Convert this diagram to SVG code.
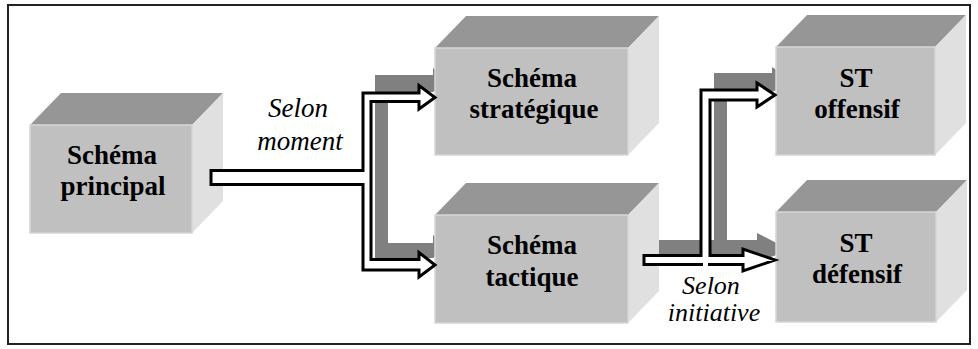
<svg xmlns="http://www.w3.org/2000/svg" width="978" height="349" viewBox="0 0 978 349">
<style>
.frame{fill:#fff;stroke:#222;stroke-width:2}
.top{fill:#969696}
.side{fill:#e0e0e0}
.front{fill:#c0c0c0;stroke:#d6d6d6;stroke-width:1.5}
.lbl{font-weight:bold;font-size:27px;fill:#000;text-anchor:middle}
.it{font-style:italic;font-size:26px;fill:#000;text-anchor:middle}
.it27{font-size:27px}
.shadow{fill:#808080}
.arrow{fill:#fff;stroke:#000;stroke-width:3;stroke-linejoin:miter}
</style>
<rect class="frame" x="8" y="5" width="962" height="339"/>
<g id="shadows">
<path class="shadow" d="M375,75 H433 V68 L449,80 L433,92 H388 V243 H433 V235 L449,248 L433,258 H375 Z"/>
<path class="shadow" d="M658,240 H714 V73 H772 V67 L795,82 L772,92 H727 V240 H757 V233 L790,250 L757,262 V256 H658 Z"/>
</g>
<g id="n-principal" font-family="'Liberation Serif', 'Times New Roman', 'DejaVu Serif', serif">
<polygon class="top" points="30,125 61,93 223,93 192,125"/>
<polygon class="side" points="192,125 223,93 223,201 192,233"/>
<rect class="front" x="30" y="125" width="162" height="108"/>
<text class="lbl" x="112" y="164">Schéma</text>
<text class="lbl" x="113" y="195">principal</text>
</g>
<g id="n-strategique" font-family="'Liberation Serif', 'Times New Roman', 'DejaVu Serif', serif">
<polygon class="top" points="435,48 466,16 659,16 628,48"/>
<polygon class="side" points="628,48 659,16 659,123 628,155"/>
<rect class="front" x="435" y="48" width="193" height="107"/>
<text class="lbl" x="532" y="87">Schéma</text>
<text class="lbl" x="534" y="118">stratégique</text>
</g>
<g id="n-tactique" font-family="'Liberation Serif', 'Times New Roman', 'DejaVu Serif', serif">
<polygon class="top" points="435,215 466,183 659,183 628,215"/>
<polygon class="side" points="628,215 659,183 659,291 628,323"/>
<rect class="front" x="435" y="215" width="193" height="108"/>
<text class="lbl" x="532" y="254">Schéma</text>
<text class="lbl" x="532" y="286">tactique</text>
</g>
<g id="n-offensif" font-family="'Liberation Serif', 'Times New Roman', 'DejaVu Serif', serif">
<polygon class="top" points="776,47 807,15 966,15 935,47"/>
<polygon class="side" points="935,47 966,15 966,123 935,155"/>
<rect class="front" x="776" y="47" width="159" height="108"/>
<text class="lbl" x="856" y="87">ST</text>
<text class="lbl" x="857" y="118">offensif</text>
</g>
<g id="n-defensif" font-family="'Liberation Serif', 'Times New Roman', 'DejaVu Serif', serif">
<polygon class="top" points="776,212 807,180 967,180 936,212"/>
<polygon class="side" points="936,212 967,180 967,290 936,322"/>
<rect class="front" x="776" y="212" width="160" height="110"/>
<text class="lbl" x="856" y="252">ST</text>
<text class="lbl" x="857" y="283">défensif</text>
</g>
<g id="connectors" font-family="'Liberation Serif', 'Times New Roman', 'DejaVu Serif', serif">
<path class="arrow" d="M211,170.5 H363 V93 H419 V85.5 L435,97.5 L419,109 V101.5 H371 V259.5 H419 V252.5 L435,265 L419,277 V270 H363 V184.5 H211 Z"/>
<path class="arrow" d="M644,255.5 H701 V90 H757 V83 L775,95 L757,107 V100 H710 V255.5 H743 V249 L775,260 L743,271 V264.5 H644 Z"/>
<rect x="703" y="262" width="5" height="5" fill="#fff"/>
<text class="it it27" x="298" y="117">Selon</text>
<text class="it it27" x="300" y="150">moment</text>
<text class="it" x="711" y="294">Selon</text>
<text class="it" x="714" y="321">initiative</text>
</g>
</svg>
